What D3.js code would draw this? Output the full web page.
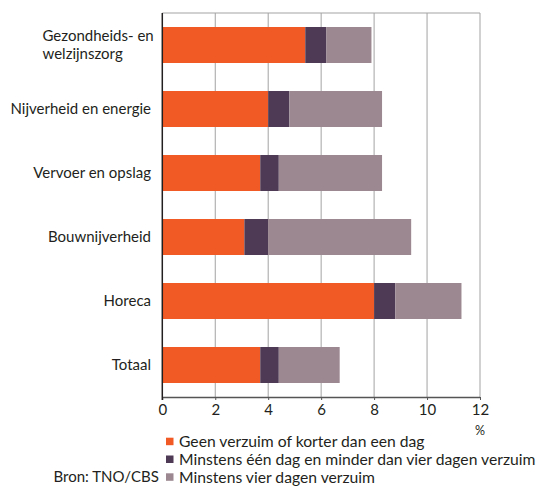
<!DOCTYPE html>
<html><head><meta charset="utf-8">
<script src="https://cdn.jsdelivr.net/npm/d3@7"></script>
<style>
html,body{margin:0;padding:0;background:#fff;}
svg{display:block;}
text{font-family:Lato, "Open Sans", sans-serif;fill:#231f20;}
</style></head>
<body>
<svg id="chart" width="541" height="486"></svg>
<script>
const categories = ["Gezondheids- en|welzijnszorg", "Nijverheid en energie", "Vervoer en opslag", "Bouwnijverheid", "Horeca", "Totaal"];
const seriesNames = ["Geen verzuim of korter dan een dag", "Minstens één dag en minder dan vier dagen verzuim", "Minstens vier dagen verzuim"];
const geenVerzuim = [5.4, 4.0, 3.7, 3.1, 8.0, 3.7];
const eenTotVierDagen = [0.8, 0.8, 0.7, 0.9, 0.8, 0.7];
const vierDagenOfMeer = [1.7, 3.5, 3.9, 5.4, 2.5, 2.3];
const xTicks = [0, 2, 4, 6, 8, 10, 12];
const colors = ["#f15a24", "#4e3a55", "#9c8891"];
const source = "Bron: TNO/CBS";

const svg = d3.select("#chart");
const pLeft = 162.3, pRight = 480, pTop = 13, pBottom = 397;
const x = d3.scaleLinear().domain([0, 12]).range([pLeft, pRight]);
const y = d3.scaleBand().domain(categories).range([pTop, pBottom]).paddingInner(0.4375).paddingOuter(0.21875);

// grid
svg.append("g").selectAll("line").data(xTicks.filter(d => d > 0)).join("line")
  .attr("x1", d => x(d)).attr("x2", d => x(d)).attr("y1", pTop).attr("y2", pBottom)
  .attr("stroke", "#a3a3a3").attr("stroke-width", 1);
svg.append("line").attr("x1", pLeft).attr("x2", pRight).attr("y1", pTop).attr("y2", pTop)
  .attr("stroke", "#a3a3a3").attr("stroke-width", 1);

// bars
const rows = categories.map((c, i) => ({cat: c, v: [geenVerzuim[i], eenTotVierDagen[i], vierDagenOfMeer[i]]}));
const stackData = rows.map(r => { let acc = 0; return r.v.map((v, k) => { const s = {cat: r.cat, k, x0: acc, x1: acc + v}; acc += v; return s; }); }).flat();
svg.append("g").selectAll("rect").data(stackData).join("rect")
  .attr("x", d => x(d.x0)).attr("width", d => x(d.x1) - x(d.x0))
  .attr("y", d => y(d.cat)).attr("height", y.bandwidth())
  .attr("fill", d => colors[d.k]);

// x axis
const xAxis = d3.axisBottom(x).tickValues(xTicks).tickSize(3).tickPadding(4).tickFormat(d3.format("d"));
const gx = svg.append("g").attr("transform", `translate(0,${pBottom})`).call(xAxis);
gx.select(".domain").attr("stroke", "#555").attr("stroke-width", 1.3).attr("d", `M${pLeft},0.5H${pRight}`);
gx.selectAll(".tick line").attr("stroke", "#555");
gx.selectAll(".tick text").attr("font-size", 15).attr("font-family", "Lato, sans-serif").attr("fill", "#231f20");
svg.append("text").attr("x", x(12)).attr("y", 435).attr("text-anchor", "middle").attr("font-size", 12.5).text("%");

// y axis line
svg.append("line").attr("x1", pLeft).attr("x2", pLeft).attr("y1", pTop).attr("y2", pBottom + 3)
  .attr("stroke", "#231f20").attr("stroke-width", 1.5);

// category labels
const labG = svg.append("g");
categories.forEach(c => {
  const lines = c.split("|");
  const cy = y(c) + y.bandwidth() / 2;
  if (lines.length === 1) {
    labG.append("text").attr("x", 151).attr("y", cy).attr("dy", "0.35em")
      .attr("text-anchor", "end").attr("font-size", 15).text(c);
  } else {
    const t = labG.append("text").attr("font-size", 15);
    lines.forEach((l, i) => t.append("tspan").attr("x", 42.5).attr("y", cy + (i - (lines.length - 1) / 2) * 18).attr("dy", "0.35em").text(l));
  }
});

// legend
const lg = svg.append("g");
seriesNames.forEach((n, i) => {
  const ly = 441.5 + i * 17.8;
  lg.append("rect").attr("x", 166).attr("y", ly - 3.8).attr("width", 7.5).attr("height", 7.5).attr("fill", colors[i]);
  lg.append("text").attr("x", 179).attr("y", ly).attr("dy", "0.35em").attr("font-size", 15.7).text(n);
});
svg.append("text").attr("x", 53.5).attr("y", 441.5 + 2 * 17.8).attr("dy", "0.35em").attr("font-size", 15).text(source);
</script>
</body></html>
